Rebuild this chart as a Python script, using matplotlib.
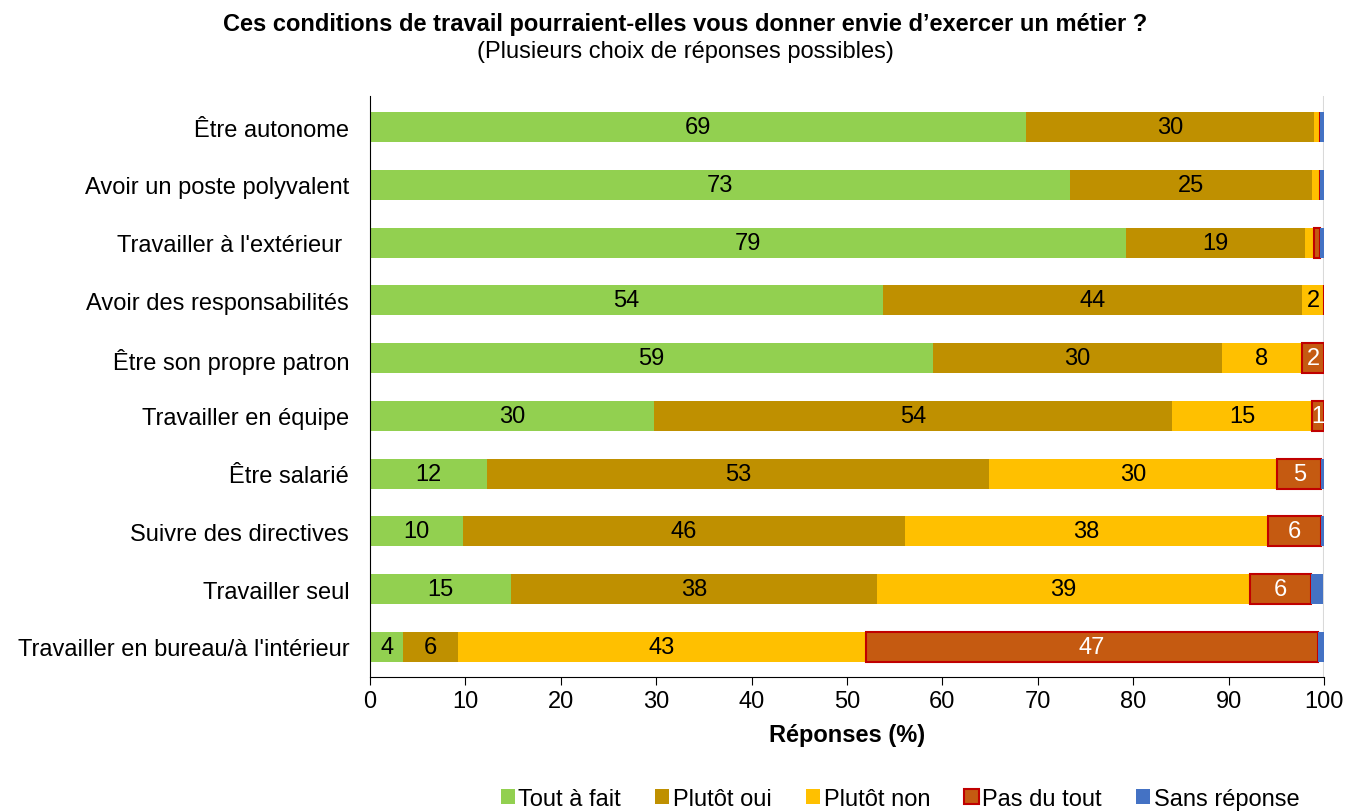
import numpy as np
import matplotlib.pyplot as plt
from matplotlib.patches import Patch

plt.rcParams['font.family'] = ['Liberation Sans', 'DejaVu Sans']

categories = [
    "Être autonome",
    "Avoir un poste polyvalent",
    "Travailler à l'extérieur ",
    "Avoir des responsabilités",
    "Être son propre patron",
    "Travailler en équipe",
    "Être salarié",
    "Suivre des directives",
    "Travailler seul",
    "Travailler en bureau/à l'intérieur",
]

tout_a_fait = [68.8, 73.4, 79.2, 53.8, 59.0, 29.8, 12.3, 9.7, 14.8, 3.5]
plutot_oui = [30.1, 25.3, 18.8, 43.9, 30.3, 54.3, 52.6, 46.4, 38.3, 5.7]
plutot_non = [0.7, 0.9, 1.0, 2.3, 8.4, 14.6, 30.2, 38.0, 39.1, 42.8]
pas_du_tout = [0.0, 0.0, 0.6, 0.0, 2.3, 1.3, 4.6, 5.6, 6.4, 47.4]
sans_reponse = [0.4, 0.4, 0.4, 0.0, 0.0, 0.0, 0.3, 0.3, 1.3, 0.6]

series_names = ["Tout à fait", "Plutôt oui", "Plutôt non", "Pas du tout", "Sans réponse"]
series = [tout_a_fait, plutot_oui, plutot_non, pas_du_tout, sans_reponse]
colors = ["#92D050", "#BF9000", "#FFC000", "#C55A11", "#4472C4"]
edges = [None, None, None, "#C00000", None]
text_colors = ["black", "black", "black", "white", None]

fs = 17

fig = plt.figure(figsize=(13.46, 8.12), dpi=100)
ax = fig.add_axes([370 / 1346, 1 - 678 / 812, 954 / 1346, 581 / 812])

y = np.arange(len(categories))
left = np.zeros(len(categories))
for name, vals, col, ec, tc in zip(series_names, series, colors, edges, text_colors):
    vals = np.array(vals)
    if ec:
        bars = ax.barh(y, vals, left=left, height=0.52, color=col, edgecolor=ec,
                       linewidth=1.5, label=name)
    else:
        bars = ax.barh(y, vals, left=left, height=0.52, color=col, linewidth=0, label=name)
    if tc:
        labels = [f"{v:.0f}" if v >= 1.2 else "" for v in vals]
        ax.bar_label(bars, labels=labels, label_type='center', color=tc, fontsize=fs)
    left += vals

ax.set_yticks(y)
ax.set_yticklabels(categories, fontsize=fs)
ax.set_ylim(len(categories) - 0.48, -0.54)
ax.set_xlim(0, 100)
ax.set_xticks(np.arange(0, 101, 10))
ax.tick_params(axis='x', labelsize=fs, direction='out', length=6)
ax.tick_params(axis='y', length=0, pad=15)
ax.axvline(100, color='#D9D9D9', linewidth=1.5, zorder=0)
for s in ['top', 'right']:
    ax.spines[s].set_visible(False)
ax.spines['left'].set_color('black')
ax.spines['bottom'].set_color('black')
ax.set_xlabel("Réponses (%)", fontsize=fs, fontweight='bold', labelpad=8)

fig.text(685 / 1346, 1 - 25 / 812, "Ces conditions de travail pourraient-elles vous donner envie d’exercer un métier ?",
         ha='center', va='center', fontsize=fs, fontweight='bold')
fig.text(685 / 1346, 1 - 52 / 812, "(Plusieurs choix de réponses possibles)",
         ha='center', va='center', fontsize=fs)

handles = [Patch(facecolor=c, edgecolor=(e if e else c), linewidth=1.5 if e else 0)
           for c, e in zip(colors, edges)]
fig.legend(handles, series_names, loc='center', bbox_to_anchor=(900 / 1346, 1 - 800 / 812),
           ncol=5, frameon=False, fontsize=fs, handlelength=0.6, handleheight=0.6,
           handletextpad=0.15, columnspacing=1.45)

fig.savefig("out.png", dpi=100)
